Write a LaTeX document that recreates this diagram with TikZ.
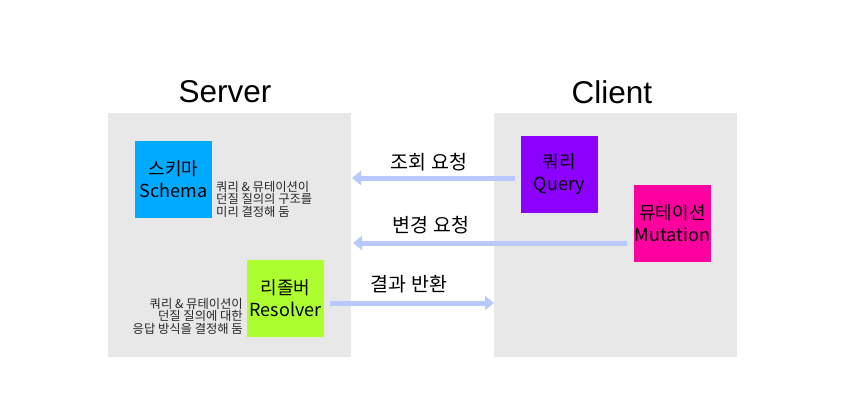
\documentclass[tikz,border=0pt]{standalone}
\usepackage{fontspec}
\setmainfont{Liberation Sans}
\newfontfamily\kr{Noto Sans CJK KR}
\usetikzlibrary{arrows.meta}
\definecolor{panel}{RGB}{232,232,232}
\definecolor{schemac}{RGB}{0,170,255}
\definecolor{resolverc}{RGB}{173,255,47}
\definecolor{queryc}{RGB}{140,0,255}
\definecolor{mutc}{RGB}{255,0,160}
\definecolor{arrowc}{RGB}{183,201,255}
\tikzset{
  panelbox/.style={fill=panel, draw=none, anchor=north west, inner sep=0pt},
  boxnode/.style={draw=none, minimum width=77pt, minimum height=77pt, inner sep=0pt, align=center, font=\kr\fontsize{18}{22}\selectfont, text=black},
  title/.style={font=\fontsize{31.5}{34}\selectfont},
  note/.style={font=\kr\fontsize{12.3}{12.6}\selectfont, text=black!85, inner sep=0pt},
  lbl/.style={font=\kr\fontsize{19.5}{21}\selectfont, inner sep=0pt},
  flow/.style={draw=arrowc, line width=5pt, -{Triangle[length=9pt,width=14pt]}}
}
\begin{document}
\begin{tikzpicture}[x=1pt,y=-1pt]
\useasboundingbox (0,0) rectangle (845,407);
\node[panelbox, minimum width=243pt, minimum height=244pt] (server) at (108,113) {};
\node[panelbox, minimum width=243pt, minimum height=244pt] (client) at (494,113) {};
\node[title] (st) at (225,92) {Server};
\node[title] (ct) at (612,92) {Client};
\node[boxnode, fill=schemac] (schema) at (173.5,179.5) {스키마\\Schema};
\node[boxnode, fill=resolverc] (resolver) at (285.5,298.5) {리졸버\\Resolver};
\node[boxnode, fill=queryc] (query) at (559.5,174.5) {쿼리\\Query};
\node[boxnode, fill=mutc] (mutation) at (672.5,223.5) {뮤테이션\\Mutation};
\node[note, anchor=west, align=left] (snote) at (216,199) {쿼리 \& 뮤테이션이\\던질 질의의 구조를\\미리 결정해 둠};
\node[note, anchor=east, align=right] (rnote) at (243,316) {쿼리 \& 뮤테이션이\\던질 질의에 대한\\응답 방식을 결정해 둠};
\coordinate (a1s) at (515,178);
\coordinate (a1e) at (352,178);
\coordinate (a2s) at (627,243);
\coordinate (a2e) at (353,243);
\coordinate (a3s) at (330,303);
\coordinate (a3e) at (494,303);
\draw[flow] (a1s) -- (a1e);
\draw[flow] (a2s) -- (a2e);
\draw[flow] (a3s) -- (a3e);
\node[lbl] (l1) at (429,162) {조회 요청};
\node[lbl] (l2) at (431,225) {변경 요청};
\node[lbl] (l3) at (409,284) {결과 반환};
\end{tikzpicture}
\end{document}
